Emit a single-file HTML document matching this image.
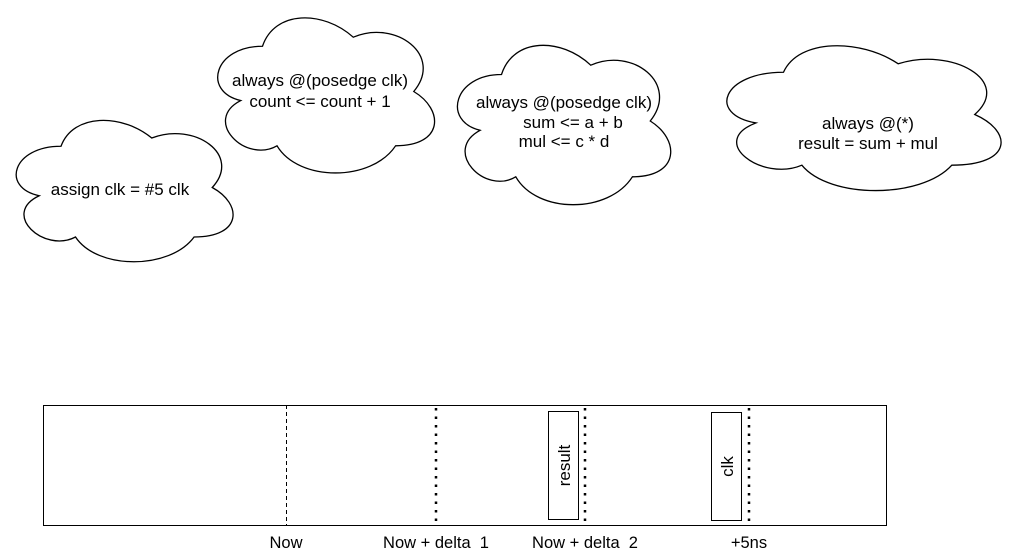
<!DOCTYPE html>
<html><head><meta charset="utf-8"><style>
body{margin:0;background:#fff;width:1022px;height:558px;overflow:hidden;position:relative;font-family:"Liberation Sans",Arial,sans-serif;font-size:17px;color:#000}
svg{position:absolute;left:0;top:0}
.t{position:absolute;text-align:center;line-height:20px;white-space:pre;width:300px}
.b{font-size:16.5px}
</style></head><body>
<svg width="1022" height="558" viewBox="0 0 1022 558">
<g fill="#fff" stroke="#000">
<path vector-effect="non-scaling-stroke" stroke-width="1.3" transform="translate(0.5,105) scale(242,165)" d="M0.25,0.25 C0.05,0.25 0,0.5 0.16,0.55 C0,0.66 0.18,0.9 0.31,0.8 C0.4,1 0.7,1 0.8,0.8 C1,0.8 1,0.6 0.875,0.5 C1,0.3 0.8,0.1 0.625,0.2 C0.5,0.05 0.3,0.05 0.25,0.25 Z"/>
<path vector-effect="non-scaling-stroke" stroke-width="1.3" transform="translate(202,1) scale(242,181)" d="M0.25,0.25 C0.05,0.25 0,0.5 0.16,0.55 C0,0.66 0.18,0.9 0.31,0.8 C0.4,1 0.7,1 0.8,0.8 C1,0.8 1,0.6 0.875,0.5 C1,0.3 0.8,0.1 0.625,0.2 C0.5,0.05 0.3,0.05 0.25,0.25 Z"/>
<path vector-effect="non-scaling-stroke" stroke-width="1.3" transform="translate(442,28) scale(238,186)" d="M0.25,0.25 C0.05,0.25 0,0.5 0.16,0.55 C0,0.66 0.18,0.9 0.31,0.8 C0.4,1 0.7,1 0.8,0.8 C1,0.8 1,0.6 0.875,0.5 C1,0.3 0.8,0.1 0.625,0.2 C0.5,0.05 0.3,0.05 0.25,0.25 Z"/>
<path vector-effect="non-scaling-stroke" stroke-width="1.3" transform="translate(707,30) scale(306,169)" d="M0.25,0.25 C0.05,0.25 0,0.5 0.16,0.55 C0,0.66 0.18,0.9 0.31,0.8 C0.4,1 0.7,1 0.8,0.8 C1,0.8 1,0.6 0.875,0.5 C1,0.3 0.8,0.1 0.625,0.2 C0.5,0.05 0.3,0.05 0.25,0.25 Z"/>
</g>
<rect x="43.5" y="405.5" width="843" height="120" fill="none" stroke="#000" stroke-width="1"/>
<line x1="286.5" y1="405" x2="286.5" y2="525" stroke="#000" stroke-dasharray="4,3"/>
<g stroke="#000" stroke-width="2.5" stroke-dasharray="2.5,6">
<line x1="436" y1="408" x2="436" y2="525"/>
<line x1="585" y1="408" x2="585" y2="525"/>
<line x1="749" y1="408" x2="749" y2="525"/>
</g>
<rect x="548.5" y="411.5" width="30" height="108" fill="#fff" stroke="#000"/>
<rect x="711.5" y="412.5" width="30" height="108" fill="#fff" stroke="#000"/>
<text x="570" y="465.5" transform="rotate(-90 570 465.5)" text-anchor="middle" font-family="Liberation Sans,Arial,sans-serif" font-size="17">result</text>
<text x="733" y="466.5" transform="rotate(-90 733 466.5)" text-anchor="middle" font-family="Liberation Sans,Arial,sans-serif" font-size="17">clk</text>
</svg>
<div class="t" style="left:-30px;top:180px">assign clk = #5 clk</div>
<div class="t" style="left:170px;top:70px;line-height:21px">always @(posedge clk)
count &lt;= count + 1</div>
<div class="t" style="left:414px;top:93px;line-height:19.5px">always @(posedge clk)
<span style="padding-left:18px">sum &lt;= a + b</span>
mul &lt;= c * d</div>
<div class="t" style="left:718px;top:114px;line-height:19.5px">always @(*)
result = sum + mul</div>
<div class="t b" style="left:136px;top:533px">Now</div>
<div class="t b" style="left:286px;top:533px">Now + delta  1</div>
<div class="t b" style="left:435px;top:533px">Now + delta  2</div>
<div class="t b" style="left:599px;top:533px">+5ns</div>
</body></html>
